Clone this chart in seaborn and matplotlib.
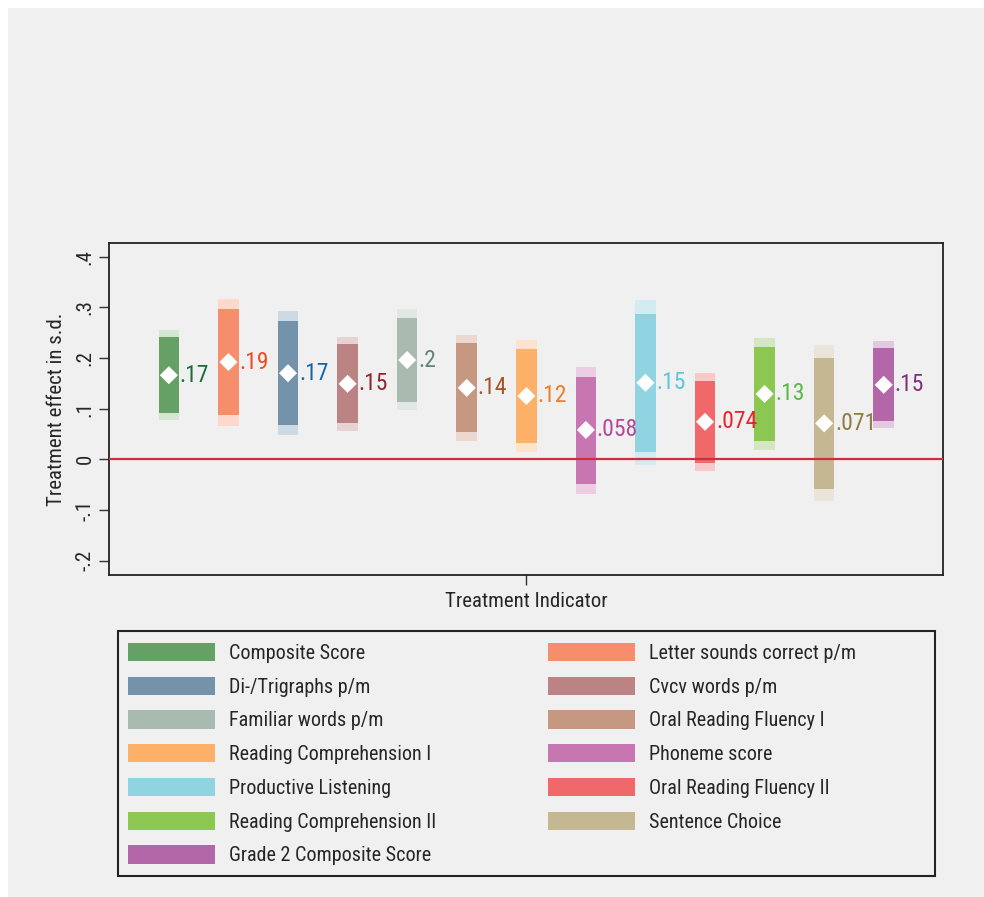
import numpy as np
import pandas as pd
import matplotlib
matplotlib.use("Agg")
import matplotlib.pyplot as plt
import matplotlib.font_manager as fm
from matplotlib.patches import Rectangle, Patch
import seaborn as sns

# ---------------- data ----------------
measures = ["Composite Score", "Letter sounds correct p/m", "Di-/Trigraphs p/m", "Cvcv words p/m",
            "Familiar words p/m", "Oral Reading Fluency I", "Reading Comprehension I", "Phoneme score",
            "Productive Listening", "Oral Reading Fluency II", "Reading Comprehension II",
            "Sentence Choice", "Grade 2 Composite Score"]
estimates = [0.166, 0.192, 0.170, 0.149, 0.196, 0.141, 0.125, 0.058, 0.151, 0.074, 0.129, 0.071, 0.147]
value_labels = [".17", ".19", ".17", ".15", ".2", ".14", ".12", ".058", ".15", ".074", ".13", ".071", ".15"]
ci90_low = [0.092, 0.0875, 0.068, 0.071, 0.113, 0.054, 0.032, -0.049, 0.014, -0.007, 0.036, -0.058, 0.076]
ci90_high = [0.241, 0.296, 0.273, 0.227, 0.279, 0.229, 0.217, 0.163, 0.287, 0.155, 0.221, 0.200, 0.219]
ci95_low = [0.078, 0.066, 0.047, 0.056, 0.097, 0.037, 0.014, -0.069, -0.012, -0.024, 0.018, -0.083, 0.061]
ci95_high = [0.255, 0.316, 0.293, 0.242, 0.296, 0.246, 0.235, 0.183, 0.314, 0.170, 0.240, 0.225, 0.234]

bar_colors = ["#65a064", "#f78e6b", "#7592ab", "#bc8385", "#a9bab1", "#c69882", "#fdb168",
              "#c776b1", "#8fd4e0", "#f06869", "#8cc752", "#c5b792", "#b366a8"]
light_colors = ["#d3e6d1", "#fdd8cb", "#cdd9e3", "#e8d3d4", "#e1e8e3", "#ecd8ce", "#fde3cb",
                "#edcde3", "#d3ecf1", "#f9c9c9", "#d3e7c2", "#e9e5da", "#e3c9e0"]
text_colors = ["#1e6b3a", "#ef4b23", "#1565a5", "#8e2733", "#5e8677", "#a5532a", "#f47c20",
               "#b24a9b", "#5ec5dc", "#ee2128", "#5bb746", "#8d7b3f", "#812f7c"]

y_ticks = [-0.2, -0.1, 0.0, 0.1, 0.2, 0.3, 0.4]
y_tick_labels = ["-.2", "-.1", "0", ".1", ".2", ".3", ".4"]
x_category = "Treatment Indicator"
y_title = "Treatment effect in s.d."

# ---------------- style ----------------
sns.set_theme(style="white")
ttf = fm.fontManager.ttflist
fam_names = {f.name for f in ttf}
stretch = "normal"
k = 0.8
main_font = "Liberation Sans"
narrow = sorted(n for n in fam_names if ("Condensed" in n or "Narrow" in n))
for cand in ["Roboto Condensed", "Liberation Sans Narrow", "Open Sans Condensed", "Noto Sans Condensed"]:
    if cand in fam_names:
        main_font, k = cand, 1.0
        break
else:
    if narrow:
        main_font, k = narrow[0], 1.0
    elif any(f.name == "DejaVu Sans" and f.stretch in ("condensed", 600, "semi-condensed") for f in ttf):
        main_font, stretch, k = "DejaVu Sans", "condensed", 0.9
plt.rcParams["font.family"] = [main_font, "DejaVu Sans"]
plt.rcParams["font.stretch"] = stretch

BG = "#f0f0f0"
fig = plt.figure(figsize=(9.84, 8.97), dpi=100, facecolor="white")
fig.patches.append(Rectangle((8 / 984, 0), 1, 1 - 8 / 897, transform=fig.transFigure,
                             facecolor=BG, edgecolor="none", zorder=-10))

ax = fig.add_axes([109.3 / 984, 1 - 575 / 897, 834 / 984, 332.3 / 897])
ax.set_facecolor(BG)

n = len(measures)
pos = np.arange(n) - (n - 1) / 2
width = 0.347

df = pd.DataFrame({"pos": pos, "est": estimates, "measure": measures})

lo95, hi95 = np.array(ci95_low), np.array(ci95_high)
lo90, hi90 = np.array(ci90_low), np.array(ci90_high)
ax.bar(pos, hi95 - lo95, bottom=lo95, width=width, color=light_colors, edgecolor="none", zorder=2)
ax.bar(pos, hi90 - lo90, bottom=lo90, width=width, color=bar_colors, edgecolor="none", zorder=3)

ax.axhline(0, color="#cc2f40", lw=1.6, zorder=4)

sns.scatterplot(data=df, x="pos", y="est", marker="D", s=85, color="white",
                edgecolor="none", ax=ax, zorder=5, legend=False)

for p, e, lab, c in zip(pos, estimates, value_labels, text_colors):
    ax.text(p + width / 2 + 0.01, e, lab, color=c, fontsize=17 * k, ha="left", va="center", zorder=6)

ax.set_xlim(-7, 7)
ax.set_ylim(-0.2284, 0.4276)
ax.set_yticks(y_ticks)
ax.set_yticklabels(y_tick_labels, rotation=90, va="center", fontsize=15 * k)
ax.set_xticks([0])
ax.set_xticklabels([""])
ax.tick_params(axis="y", left=True, length=7.5, width=1, color="#333333", pad=3)
ax.tick_params(axis="x", bottom=True, length=7, width=1, color="#333333", pad=0)
ax.set_xlabel(x_category, fontsize=15 * k, labelpad=5)
ax.set_ylabel(y_title, fontsize=15 * k, labelpad=7)
for s in ax.spines.values():
    s.set_visible(True)
    s.set_color("#222222")
    s.set_linewidth(1.3)

# ---------------- legend ----------------
fig.patches.append(Rectangle((117.7 / 984, 1 - 876 / 897), (935 - 117.7) / 984, (876 - 631) / 897,
                             transform=fig.transFigure, facecolor="none", edgecolor="#222222",
                             lw=1.5, zorder=5))
col1 = [0, 2, 4, 6, 8, 10, 12]
col2 = [1, 3, 5, 7, 9, 11]
fs_leg = 14.5 * k
em = fs_leg * 100 / 72
for idx, x0 in ((col1, 127.7), (col2, 547.7)):
    handles = [Patch(facecolor=bar_colors[i], edgecolor="none") for i in idx]
    labels = [measures[i] for i in idx]
    fig.legend(handles, labels, ncol=1, loc="upper left",
               bbox_to_anchor=(x0 / 984, 1 - 643 / 897), frameon=False,
               fontsize=fs_leg, handlelength=87 / em,
               handleheight=20.5 / em, handletextpad=14 / em,
               labelspacing=0.68, borderpad=0, borderaxespad=0)

fig.savefig("out.png", dpi=100, facecolor="white")
